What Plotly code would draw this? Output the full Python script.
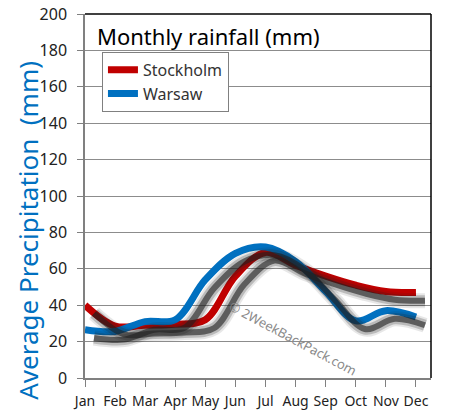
import plotly.graph_objects as go

months = ["Jan", "Feb", "Mar", "Apr", "May", "Jun", "Jul", "Aug", "Sep", "Oct", "Nov", "Dec"]
stockholm = [40, 28.5, 29, 29.5, 32, 56, 69, 62, 56, 51, 47.5, 47]
warsaw = [26.5, 25.6, 31, 32, 54, 68.5, 72, 64, 47.5, 31.4, 37, 33.5]
y_ticks = [0, 20, 40, 60, 80, 100, 120, 140, 160, 180, 200]

RED = "#c00000"
BLUE = "#0070c0"
FONT = "Noto Sans"

x_idx = list(range(len(months)))
xr = [0, 11.5]
yr = [0, 200]
# shadow offset in axis units (about 9px right, 8px down)
dx, dy = 0.3, 4.5

fig = go.Figure()

for vals in (warsaw, stockholm):
    for w, op in ((15, 0.1), (11, 0.22), (6, 0.6)):
        fig.add_trace(go.Scatter(x=x_idx, y=vals, xaxis="x2", yaxis="y2", mode="lines",
                                 line=dict(color="#202020", width=w, shape="spline", smoothing=1.0),
                                 opacity=op, showlegend=False, hoverinfo="skip"))

fig.add_trace(go.Scatter(x=x_idx, y=stockholm, name="Stockholm", mode="lines",
                         line=dict(color=RED, width=7, shape="spline", smoothing=1.0)))
fig.add_trace(go.Scatter(x=x_idx, y=warsaw, name="Warsaw", mode="lines",
                         line=dict(color=BLUE, width=7, shape="spline", smoothing=1.0)))

fig.update_layout(
    width=451, height=418,
    margin=dict(l=85, r=20, t=14, b=40, autoexpand=False),
    paper_bgcolor="white", plot_bgcolor="white",
    font=dict(family=FONT, color="#222"),
    xaxis=dict(range=xr, tickmode="array", tickvals=x_idx, ticktext=months, automargin=False,
               showgrid=False, zeroline=False, showline=True, linecolor="#808080", linewidth=1.5,
               ticks="outside", ticklen=7, tickcolor="#808080", ticklabelstandoff=2,
               tickfont=dict(size=14, color="#222"), fixedrange=True),
    yaxis=dict(range=yr, tickmode="array", tickvals=y_ticks, automargin=False,
               showgrid=True, gridcolor="#8c8c8c", gridwidth=1, zeroline=False,
               showline=True, linecolor="#808080", linewidth=1.5,
               ticks="outside", ticklen=6, tickcolor="#808080", ticklabelstandoff=7,
               tickfont=dict(size=16, color="#222"), fixedrange=True),
    xaxis2=dict(range=[xr[0] - dx, xr[1] - dx], overlaying="x", visible=False, fixedrange=True),
    yaxis2=dict(range=[yr[0] + dy, yr[1] + dy], overlaying="y", visible=False, fixedrange=True),
    legend=dict(x=0.049, y=0.896, xanchor="left", yanchor="top",
                bgcolor="white", bordercolor="#808080", borderwidth=1,
                font=dict(size=16, color="#333"), itemwidth=30, tracegroupgap=4),
    showlegend=True,
)

fig.add_shape(type="line", xref="paper", yref="paper", x0=0, x1=1, y0=1, y1=1,
              line=dict(color="black", width=1.5))
fig.add_shape(type="line", xref="paper", yref="paper", x0=1, x1=1, y0=0, y1=1,
              line=dict(color="black", width=1.5))

fig.add_annotation(text="Monthly rainfall (mm)", xref="paper", yref="paper",
                   x=0.03, y=0.985, xanchor="left", yanchor="top", showarrow=False,
                   font=dict(size=22, color="black", family=FONT))
fig.add_annotation(text="Average Precipitation  (mm)", xref="paper", yref="paper",
                   x=-0.165, y=0.407, xanchor="center", yanchor="middle", textangle=-90,
                   showarrow=False, font=dict(size=26, color=BLUE, family=FONT))
fig.add_annotation(text="© 2WeekBackPack.com", xref="paper", yref="paper",
                   x=0.6, y=0.11, xanchor="center", yanchor="middle", textangle=28,
                   showarrow=False, font=dict(size=13, color="#8a8a8a", family=FONT))

fig.write_html("out.html", config={"displayModeBar": False},
               post_script="document.body.style.margin='0';")
